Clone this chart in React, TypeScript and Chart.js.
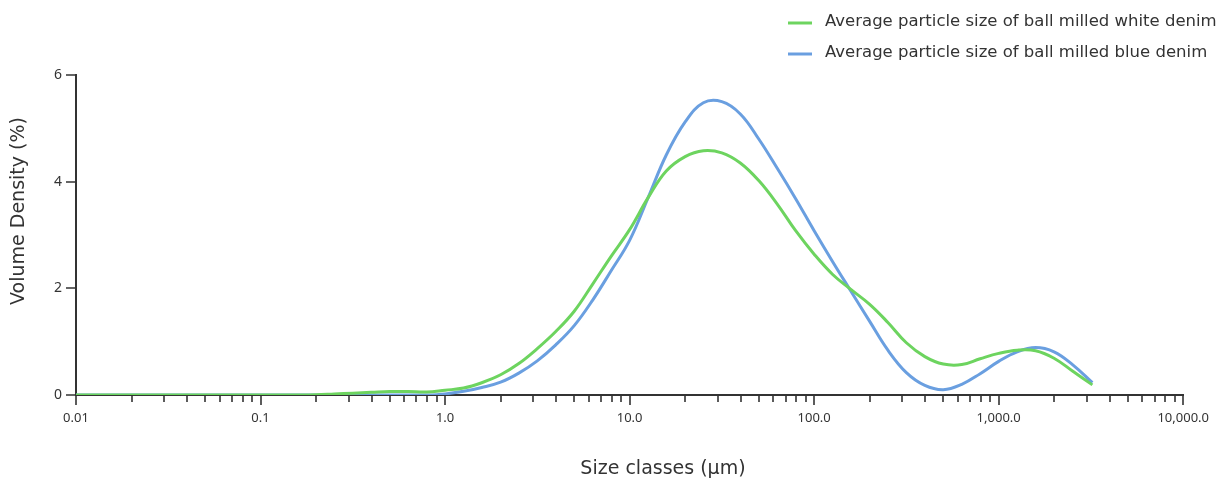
import { useEffect, useRef } from 'react';
import { Chart, registerables } from 'chart.js';

Chart.register(...registerables);

// Size classes (µm) on a logarithmic grid
const sizeClasses = [
  0.01, 0.0126, 0.0158, 0.02, 0.0251, 0.0316, 0.0398, 0.0501, 0.0631, 0.0794,
  0.1, 0.126, 0.158, 0.2, 0.251, 0.316, 0.398, 0.501, 0.631, 0.794,
  1, 1.26, 1.58, 2.0, 2.51, 3.16, 3.98, 5.01, 6.31, 7.94,
  10, 12.6, 15.8, 20, 25.1, 31.6, 39.8, 50.1, 63.1, 79.4,
  100, 126, 158, 200, 251, 316, 398, 501, 631, 794,
  1000, 1259, 1585, 1995, 2512, 3220,
];

// Volume density (%) per size class
const whiteDenim = [
  0, 0, 0, 0, 0, 0, 0, 0, 0, 0,
  0, 0, 0, 0.005, 0.02, 0.035, 0.05, 0.065, 0.065, 0.055,
  0.09, 0.13, 0.23, 0.38, 0.59, 0.87, 1.19, 1.57, 2.08, 2.6,
  3.1, 3.7, 4.2, 4.47, 4.58, 4.54, 4.35, 4.02, 3.58, 3.08,
  2.64, 2.26, 1.98, 1.7, 1.36, 0.98, 0.72, 0.58, 0.57, 0.68,
  0.78, 0.84, 0.83, 0.69, 0.45, 0.19,
];

const blueDenim = [
  0, 0, 0, 0, 0, 0, 0, 0, 0, 0,
  0, 0, 0, 0, 0, 0, 0, 0, 0, 0,
  0.02, 0.07, 0.14, 0.24, 0.41, 0.64, 0.94, 1.3, 1.78, 2.33,
  2.9, 3.7, 4.5, 5.12, 5.48, 5.5, 5.27, 4.8, 4.25, 3.68,
  3.08, 2.5, 1.95, 1.38, 0.84, 0.42, 0.18, 0.1, 0.2, 0.4,
  0.63, 0.81, 0.89, 0.81, 0.57, 0.23,
];

const seriesLabels = [
  'Average particle size of ball milled white denim',
  'Average particle size of ball milled blue denim',
];
const seriesColors = ['#6dd45f', '#6a9fe0'];

const xDecades = [0.01, 0.1, 1, 10, 100, 1000, 10000];
const xTickLabels = ['0.01', '0.1', '1.0', '10.0', '100.0', '1,000.0', '10,000.0'];
const yTicks = [0, 2, 4, 6];
const xTitle = 'Size classes (µm)';
const yTitle = 'Volume Density (%)';

const FONT = '"DejaVu Sans", Verdana, sans-serif';
const TICK_FONT = '"Noto Sans", "DejaVu Sans", sans-serif';
const INK = '#333333';

// Draws tick marks (long at decades, short in between), axis titles and the legend
const decorations = {
  id: 'decorations',
  afterDraw(chart: any) {
    const { ctx, chartArea, scales } = chart;
    const x = scales.x;
    const y = scales.y;
    ctx.save();
    ctx.strokeStyle = INK;
    ctx.lineWidth = 1.6;

    // x tick marks
    ctx.beginPath();
    xDecades.forEach((d, i) => {
      const multiples = i < xDecades.length - 1 ? [1, 2, 3, 4, 5, 6, 7, 8, 9] : [1];
      multiples.forEach((m) => {
        const px = Math.round(x.getPixelForValue(d * m));
        const len = m === 1 ? 10 : 7;
        ctx.moveTo(px, chartArea.bottom);
        ctx.lineTo(px, chartArea.bottom + len);
      });
    });
    // y tick marks
    yTicks.forEach((t) => {
      const py = Math.round(y.getPixelForValue(t));
      ctx.moveTo(chartArea.left - 10, py);
      ctx.lineTo(chartArea.left, py);
    });
    ctx.stroke();

    // axis titles
    ctx.fillStyle = INK;
    ctx.font = `19px ${FONT}`;
    ctx.textAlign = 'center';
    ctx.textBaseline = 'middle';
    ctx.fillText(xTitle, 663, 469);
    ctx.save();
    ctx.translate(19, 211);
    ctx.rotate(-Math.PI / 2);
    ctx.fillText(yTitle, 0, 0);
    ctx.restore();

    // legend
    ctx.font = `16.5px ${FONT}`;
    ctx.textAlign = 'left';
    chart.data.datasets.forEach((ds: any, i: number) => {
      const rowY = 23 + i * 31;
      ctx.strokeStyle = ds.borderColor;
      ctx.lineWidth = 3;
      ctx.beginPath();
      ctx.moveTo(788, rowY);
      ctx.lineTo(812, rowY);
      ctx.stroke();
      ctx.fillStyle = INK;
      ctx.fillText(ds.label, 825, rowY - 1);
    });
    ctx.restore();
  },
};

export default function App() {
  const canvasRef = useRef<HTMLCanvasElement | null>(null);

  useEffect(() => {
    if (!canvasRef.current) return;
    const points = (vals: number[]) => sizeClasses.map((s, i) => ({ x: s, y: vals[i] }));
    const chart = new Chart(canvasRef.current, {
      type: 'line',
      data: {
        datasets: [
          {
            label: seriesLabels[0],
            data: points(whiteDenim),
            borderColor: seriesColors[0],
            backgroundColor: seriesColors[0],
            borderWidth: 3,
            pointRadius: 0,
            tension: 0.4,
          },
          {
            label: seriesLabels[1],
            data: points(blueDenim),
            borderColor: seriesColors[1],
            backgroundColor: seriesColors[1],
            borderWidth: 3,
            pointRadius: 0,
            tension: 0.4,
          },
        ],
      },
      options: {
        animation: false,
        responsive: true,
        maintainAspectRatio: false,
        layout: { padding: { left: 0, top: 75, right: 38, bottom: 0 } },
        plugins: {
          legend: { display: false },
          tooltip: { enabled: false },
        },
        scales: {
          x: {
            type: 'logarithmic',
            min: 0.01,
            max: 10000,
            grid: { display: false, drawTicks: false },
            border: { display: true, color: INK, width: 2 },
            afterBuildTicks: (scale: any) => {
              scale.ticks = xDecades.map((v) => ({ value: v }));
            },
            afterFit: (scale: any) => {
              scale.height = 86;
            },
            ticks: {
              autoSkip: false,
              maxRotation: 0,
              padding: 15,
              color: INK,
              font: { family: TICK_FONT, size: 13 },
              callback: (_v: any, i: number) => xTickLabels[i],
            },
          },
          y: {
            type: 'linear',
            min: 0,
            max: 6,
            grid: { display: false, drawTicks: false },
            border: { display: true, color: INK, width: 2 },
            afterBuildTicks: (scale: any) => {
              scale.ticks = yTicks.map((v) => ({ value: v }));
            },
            afterFit: (scale: any) => {
              scale.width = 76;
            },
            ticks: {
              padding: 14,
              color: INK,
              font: { family: TICK_FONT, size: 14 },
            },
          },
        },
      },
      plugins: [decorations],
    } as any);
    return () => chart.destroy();
  }, []);

  return (
    <div style={{ position: 'absolute', left: 0, top: 0, width: 1224, height: 481 }}>
      <canvas ref={canvasRef} />
    </div>
  );
}
